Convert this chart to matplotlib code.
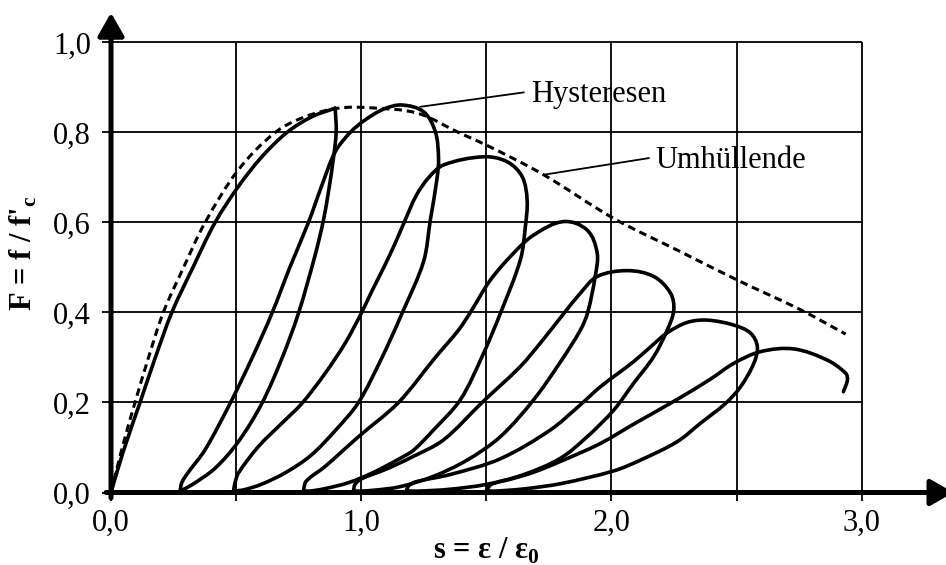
import matplotlib.pyplot as plt
import numpy as np
from matplotlib.patches import PathPatch
from matplotlib.path import Path

plt.rcParams["font.family"] = "Liberation Serif"
plt.rcParams["mathtext.fontset"] = "custom"
plt.rcParams["mathtext.rm"] = "Liberation Serif"
plt.rcParams["mathtext.bf"] = "Liberation Serif:bold"

FONT_SIZE = 22
CURVE_WIDTH = 2.6
GRID_WIDTH = 1.3
AXIS_WIDTH = 3.6

X_MAX = 3.337
Y_MAX = 1.061

# envelope (dashed)
env_s = [0, 0.045, 0.096, 0.15, 0.209, 0.29, 0.376, 0.509, 0.656, 0.776, 0.909,
         1.03, 1.223, 1.396, 1.5, 1.729, 2.009, 2.276, 2.503, 2.756, 2.936]
env_f = [0, 0.1, 0.2, 0.3, 0.4, 0.5, 0.6, 0.717, 0.8, 0.835, 0.854,
         0.855, 0.843, 0.798, 0.772, 0.706, 0.609, 0.535, 0.472, 0.406, 0.352]

# first loading up to the peak
load_s = [0, 0.049, 0.116, 0.176, 0.243, 0.329, 0.416, 0.509, 0.603, 0.703, 0.803, 0.896]
load_f = [0, 0.091, 0.2, 0.298, 0.4, 0.502, 0.6, 0.68, 0.746, 0.8, 0.835, 0.854]

# first unloading (starts at the loading peak)
loop1_s = [0.896, 0.900, 0.889, 0.869, 0.849, 0.816, 0.749, 0.683, 0.603, 0.509, 0.416,
           0.323, 0.276]
loop1_f = [0.854, 0.802, 0.743, 0.668, 0.605, 0.528, 0.398, 0.298, 0.198, 0.113, 0.054,
           0.017, 0.003]

loop2_s = [0.276, 0.283, 0.309, 0.376, 0.476, 0.563, 0.643, 0.716, 0.789, 0.843, 0.896, 0.956,
           1.016, 1.09, 1.163, 1.249, 1.296, 1.309, 1.303, 1.276, 1.249, 1.163, 1.083, 0.989,
           0.9, 0.8, 0.7, 0.6, 0.523, 0.49]
loop2_f = [0.003, 0.022, 0.045, 0.095, 0.198, 0.298, 0.398, 0.502, 0.6, 0.683, 0.757, 0.8,
           0.828, 0.852, 0.861, 0.846, 0.802, 0.743, 0.698, 0.605, 0.513, 0.398, 0.3, 0.2,
           0.14, 0.083, 0.045, 0.018, 0.005, 0.004]

loop3_s = [0.49, 0.495, 0.509, 0.589, 0.683, 0.763, 0.856, 0.936, 1.0, 1.043, 1.09, 1.135,
           1.176, 1.22, 1.27, 1.33, 1.489, 1.583, 1.643, 1.663, 1.656, 1.636, 1.556, 1.483,
           1.396, 1.289, 1.209, 1.156, 1.05, 0.95, 0.85, 0.79, 0.769]
loop3_f = [0.004, 0.02, 0.043, 0.102, 0.154, 0.198, 0.265, 0.332, 0.398, 0.448, 0.5, 0.553,
           0.606, 0.66, 0.7, 0.728, 0.746, 0.735, 0.702, 0.65, 0.591, 0.517, 0.398, 0.302,
           0.206, 0.139, 0.094, 0.076, 0.045, 0.022, 0.008, 0.003, 0.004]

loop4_s = [0.769, 0.78, 0.856, 0.989, 1.149, 1.296, 1.389, 1.436, 1.516, 1.609, 1.689, 1.809,
           1.903, 1.943, 1.935, 1.905, 1.876, 1.796, 1.689, 1.556, 1.423, 1.289, 1.156, 1.05,
           0.985, 0.969]
loop4_f = [0.004, 0.025, 0.058, 0.124, 0.2, 0.3, 0.361, 0.4, 0.472, 0.532, 0.572, 0.602,
           0.583, 0.532, 0.48, 0.4, 0.361, 0.29, 0.206, 0.124, 0.072, 0.036, 0.013, 0.005,
           0.003, 0.004]

loop5_s = [0.969, 0.975, 1.0, 1.1, 1.2, 1.329, 1.483, 1.636, 1.72, 1.81, 1.876, 1.943,
           2.063, 2.169, 2.236, 2.249, 2.223, 2.169, 2.089, 2.009, 1.903, 1.796, 1.65, 1.5,
           1.35, 1.22, 1.18]
loop5_f = [0.004, 0.018, 0.03, 0.052, 0.078, 0.117, 0.2, 0.28, 0.335, 0.398, 0.443, 0.48,
           0.493, 0.48, 0.443, 0.405, 0.361, 0.302, 0.243, 0.183, 0.124, 0.076, 0.04, 0.018,
           0.007, 0.003, 0.004]

loop6_s = [1.18, 1.19, 1.22, 1.356, 1.556, 1.756, 1.876, 1.956, 2.089, 2.169, 2.223, 2.303,
           2.383, 2.489, 2.556, 2.583, 2.569, 2.516, 2.456, 2.356, 2.263, 2.116, 2.009, 1.8,
           1.65, 1.53, 1.50]
loop6_f = [0.004, 0.015, 0.024, 0.04, 0.075, 0.139, 0.195, 0.235, 0.291, 0.33, 0.355, 0.378,
           0.383, 0.372, 0.354, 0.324, 0.287, 0.235, 0.198, 0.154, 0.113, 0.072, 0.048, 0.02,
           0.008, 0.003, 0.004]

# last reloading, ends on the way down
loop7_s = [1.50, 1.52, 1.6, 1.689, 1.8, 1.956, 2.089, 2.263, 2.396, 2.489, 2.596, 2.729,
           2.863, 2.936, 2.943, 2.927]
loop7_f = [0.004, 0.018, 0.03, 0.045, 0.07, 0.109, 0.152, 0.207, 0.252, 0.287, 0.313, 0.319,
           0.294, 0.265, 0.25, 0.224]

x_ticks = [0.0, 0.5, 1.0, 1.5, 2.0, 2.5, 3.0]
x_tick_labels = ["0,0", "", "1,0", "", "2,0", "", "3,0"]
y_ticks = [0.0, 0.2, 0.4, 0.6, 0.8, 1.0]
y_tick_labels = ["0,0", "0,2", "0,4", "0,6", "0,8", "1,0"]


def smooth_path(s, f, sx=250.0, sy=450.0):
    """Bezier path through the points; tangents taken in (roughly) pixel space."""
    p = np.column_stack([np.asarray(s) * sx, np.asarray(f) * sy])
    n = len(p)
    tang = np.zeros_like(p)
    for i in range(n):
        a = p[max(i - 1, 0)]
        b = p[min(i + 1, n - 1)]
        d = b - a
        norm = np.hypot(*d)
        tang[i] = d / norm if norm > 0 else 0
    verts = [p[0]]
    codes = [Path.MOVETO]
    for i in range(n - 1):
        seg = np.hypot(*(p[i + 1] - p[i])) / 3.0
        verts += [p[i] + tang[i] * seg, p[i + 1] - tang[i + 1] * seg, p[i + 1]]
        codes += [Path.CURVE4] * 3
    verts = np.array(verts) / [sx, sy]
    return Path(verts, codes)


fig = plt.figure(figsize=(9.46, 5.65), dpi=100)
ax = fig.add_axes([111 / 946, 72.5 / 565, 835 / 946, 477.5 / 565])
ax.set_xlim(0, X_MAX)
ax.set_ylim(0, Y_MAX)
for spine in ax.spines.values():
    spine.set_visible(False)

# grid only inside the 0..3 / 0..1 box
ax.vlines(x_ticks[1:], 0, y_ticks[-1], color="black", lw=GRID_WIDTH, zorder=1)
ax.hlines(y_ticks[1:], 0, x_ticks[-1], color="black", lw=GRID_WIDTH, zorder=1)

ax.set_xticks(x_ticks, x_tick_labels)
ax.set_yticks(y_ticks, y_tick_labels)
ax.tick_params(axis="x", direction="out", length=6, width=GRID_WIDTH, labelsize=FONT_SIZE, pad=6)
ax.tick_params(axis="y", direction="out", length=6.5, width=GRID_WIDTH, labelsize=FONT_SIZE, pad=8)

# axes with arrow heads
arrow = dict(arrowstyle="-|>,head_length=0.7,head_width=0.4", lw=AXIS_WIDTH,
             color="black", mutation_scale=20, shrinkA=0, shrinkB=0)
ax.annotate("", xy=(0, Y_MAX + 0.005), xytext=(0, -0.012), arrowprops=arrow,
            annotation_clip=False)
ax.annotate("", xy=(X_MAX + 0.03, 0), xytext=(-0.02, 0), arrowprops=arrow,
            annotation_clip=False)

ax.add_patch(PathPatch(smooth_path(env_s, env_f), fill=False, edgecolor="black", lw=2.2,
                       linestyle=(0, (2.5, 1.6)), zorder=3))

curves = [(load_s, load_f), (loop1_s, loop1_f), (loop2_s, loop2_f), (loop3_s, loop3_f),
          (loop4_s, loop4_f), (loop5_s, loop5_f), (loop6_s, loop6_f), (loop7_s, loop7_f)]
for s, f in curves:
    ax.add_patch(PathPatch(smooth_path(s, f), fill=False, edgecolor="black", lw=CURVE_WIDTH,
                           joinstyle="round", capstyle="round", zorder=4))

ax.plot([1.236, 1.649], [0.857, 0.889], color="black", lw=GRID_WIDTH)
ax.text(1.68, 0.868, "Hysteresen", fontsize=FONT_SIZE, va="baseline")
ax.plot([1.729, 2.149], [0.706, 0.743], color="black", lw=GRID_WIDTH)
ax.text(2.176, 0.72, "Umhüllende", fontsize=FONT_SIZE, va="baseline")

ax.set_ylabel("F = f / f'$_\\mathbf{c}$", fontsize=FONT_SIZE, fontweight="bold", labelpad=10)
ax.set_xlabel("s = ε / ε$_\\mathbf{0}$", fontsize=FONT_SIZE, fontweight="bold")
ax.xaxis.label.set_va("baseline")
ax.xaxis.set_label_coords(1.5 / X_MAX, -0.139)

fig.savefig("out.png", dpi=100)
